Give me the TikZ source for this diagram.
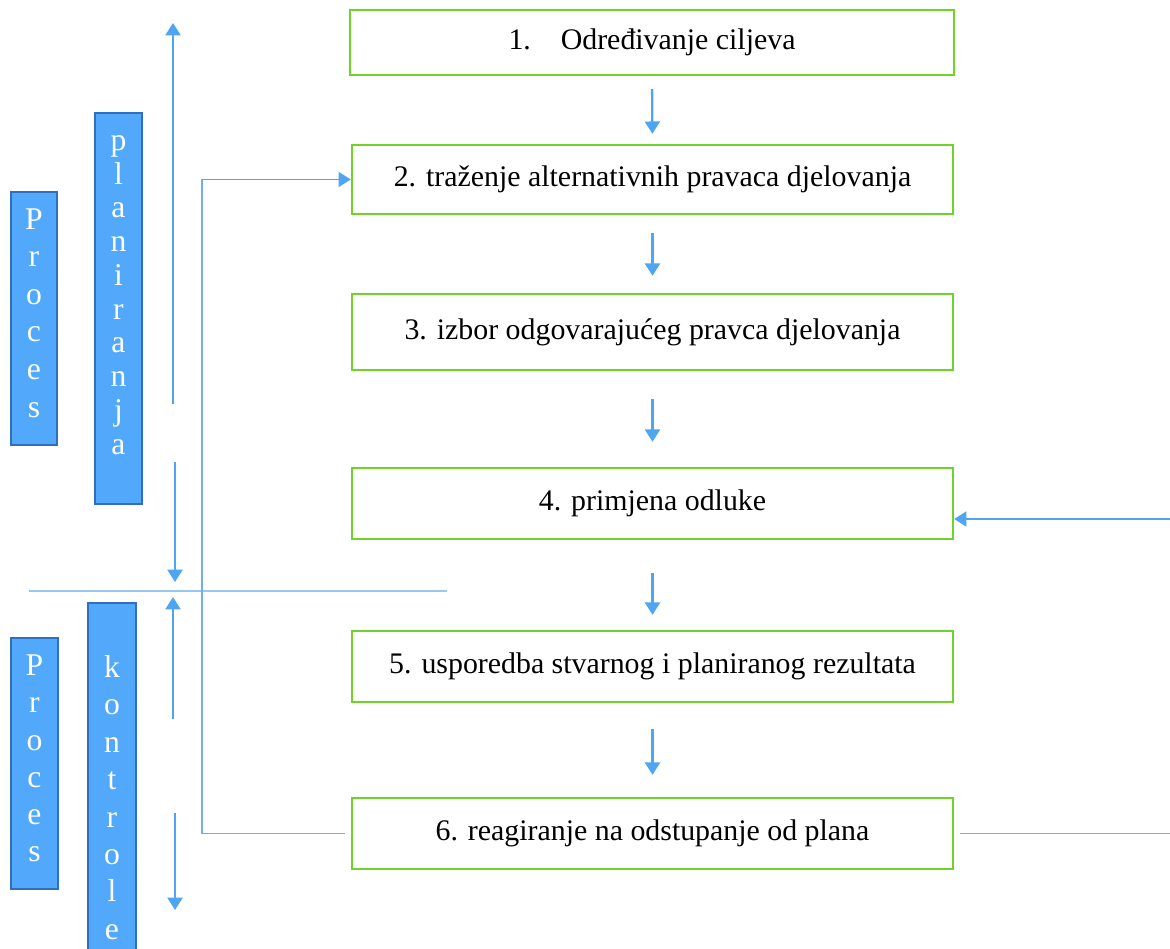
\documentclass[tikz,border=0pt]{standalone}
\usepackage{fontspec}
\setmainfont{Liberation Serif}
\usetikzlibrary{arrows.meta,positioning}
\definecolor{boxgreen}{RGB}{110,212,40}
\definecolor{barblue}{RGB}{82,168,250}
\definecolor{bardark}{RGB}{48,110,190}
\definecolor{arrowblue}{RGB}{80,165,240}
\definecolor{lineblue}{RGB}{110,175,232}
\definecolor{seplight}{RGB}{150,200,240}
\tikzset{
  stepbox/.style={draw=boxgreen, line width=1.4pt, minimum width=12.02cm,
    inner sep=0pt, font=\fontsize{17}{20}\selectfont},
  barbox/.style={draw=bardark, fill=barblue, line width=0.8pt, inner sep=0pt},
  barletters/.style={text=white, align=center, inner sep=0pt},
  flow/.style={arrowblue, line width=1.3pt, -{Triangle[length=7pt,width=8.5pt]}},
  feedback/.style={lineblue, line width=1.1pt},
}
\begin{document}
\begin{tikzpicture}[x=0.02cm, y=-0.02cm]
    \useasboundingbox (0,0) rectangle (1170,949);
    % steps of the process
    \node[stepbox, minimum width=12.08cm, minimum height=1.3cm] (b1) at (652,42.5) {1.\hspace{1em}Određivanje ciljeva};
    \node[stepbox, minimum height=1.38cm] (b2) at (652.5,179.5) {2. traženje alternativnih pravaca djelovanja};
    \node[stepbox, minimum height=1.52cm] (b3) at (652.5,332) {3. izbor odgovarajućeg pravca djelovanja};
    \node[stepbox, minimum height=1.42cm] (b4) at (652.5,503.5) {4. primjena odluke};
    \node[stepbox, minimum height=1.42cm] (b5) at (652.5,666.5) {5. usporedba stvarnog i planiranog rezultata};
    \node[stepbox, minimum height=1.42cm] (b6) at (652.5,833.5) {6. reagiranje na odstupanje od plana};
    % arrows between the steps
    \draw[flow, shorten <=0.26cm, shorten >=0.2cm] (b1.south) -- (b2.north);
    \draw[flow, shorten <=0.36cm, shorten >=0.34cm] (b2.south) -- (b3.north);
    \draw[flow, shorten <=0.56cm, shorten >=0.5cm] (b3.south) -- (b4.north);
    \draw[flow, shorten <=0.66cm, shorten >=0.3cm] (b4.south) -- (b5.north);
    \draw[flow, shorten <=0.52cm, shorten >=0.44cm] (b5.south) -- (b6.north);

    % vertical bars on the left
    \node[barbox, minimum width=0.92cm, minimum height=5.06cm] (procPlan) at (34,318.5) {};
    \node[barletters, font=\fontsize{18}{21.4}\selectfont] (procPlanTxt) at (34,313) {P\\r\\o\\c\\e\\s};
    \node[barbox, minimum width=0.94cm, minimum height=7.82cm] (plan) at (118.5,308.5) {};
    \node[barletters, font=\fontsize{18}{19.2}\selectfont] (planTxt) at (118.5,295) {p\\l\\a\\n\\i\\r\\a\\n\\j\\a};
    \node[barbox, minimum width=0.94cm, minimum height=5.02cm] (procCtrl) at (34.5,763.5) {};
    \node[barletters, font=\fontsize{18}{21.2}\selectfont] (procCtrlTxt) at (34.5,758.5) {P\\r\\o\\c\\e\\s};
    \node[barbox, minimum width=0.96cm, minimum height=7.24cm] (ctrl) at (112,784) {};
    \node[barletters, font=\fontsize{18}{21.3}\selectfont] (ctrlTxt) at (112,797.5) {k\\o\\n\\t\\r\\o\\l\\e};

    % range arrows beside the bars
    \coordinate (planUpS) at (173,404);
    \coordinate (planUpE) at (173,23);
    \coordinate (planDnS) at (175,462);
    \coordinate (planDnE) at (175,582);
    \coordinate (ctrlUpS) at (173,719);
    \coordinate (ctrlUpE) at (173,597);
    \coordinate (ctrlDnS) at (175,813);
    \coordinate (ctrlDnE) at (175,910);
    \draw[flow] (planUpS) -- (planUpE);
    \draw[flow] (planDnS) -- (planDnE);
    \draw[flow] (ctrlUpS) -- (ctrlUpE);
    \draw[flow] (ctrlDnS) -- (ctrlDnE);

    % border between planning and control
    \coordinate (sepL) at (29,591);
    \coordinate (sepR) at (447,591);
    \draw[seplight, line width=0.9pt] (sepL) -- (sepR);

    % feedback loops from step 6
    \coordinate (fbLeft) at (202,833.5);
    \coordinate (fbTop) at (202,179.5);
    \coordinate (fbRight) at (1174,519);
    \draw[feedback] ([xshift=-0.12cm]b6.west) -- (fbLeft) -- (fbTop);
    \draw[flow, line width=1.1pt] (fbTop) -- (b2.west);
    \draw[feedback] ([xshift=0.12cm]b6.east) -- (b6.east -| fbRight) -- (fbRight);
    \draw[flow] (fbRight) -- (b4.east |- fbRight);
\end{tikzpicture}
\end{document}
